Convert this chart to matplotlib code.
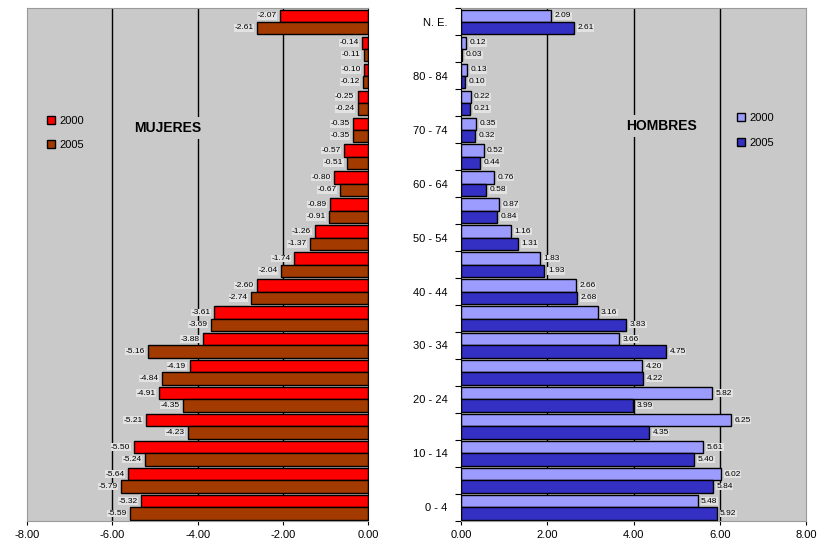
import numpy as np
import matplotlib
matplotlib.use("Agg")
import matplotlib.pyplot as plt

plt.rcParams['font.family'] = ['Liberation Sans', 'DejaVu Sans']

# age groups, top to bottom
categories = ["N. E.", "85 y +", "80 - 84", "75 - 79", "70 - 74", "65 - 69", "60 - 64",
              "55 - 59", "50 - 54", "45 - 49", "40 - 44", "35 - 39", "30 - 34",
              "25 - 29", "20 - 24", "15 - 19", "10 - 14", "5 - 9", "0 - 4"]

mujeres_2000 = [-2.07, -0.14, -0.10, -0.25, -0.35, -0.57, -0.80, -0.89, -1.26, -1.74,
                -2.60, -3.61, -3.88, -4.19, -4.91, -5.21, -5.50, -5.64, -5.32]
mujeres_2005 = [-2.61, -0.11, -0.12, -0.24, -0.35, -0.51, -0.67, -0.91, -1.37, -2.04,
                -2.74, -3.69, -5.16, -4.84, -4.35, -4.23, -5.24, -5.79, -5.59]

hombres_2000 = [2.09, 0.12, 0.13, 0.22, 0.35, 0.52, 0.76, 0.87, 1.16, 1.83,
                2.66, 3.16, 3.66, 4.20, 5.82, 6.25, 5.61, 6.02, 5.48]
hombres_2005 = [2.61, 0.03, 0.10, 0.21, 0.32, 0.44, 0.58, 0.84, 1.31, 1.93,
                2.68, 3.83, 4.75, 4.22, 3.99, 4.35, 5.40, 5.84, 5.92]

years = ["2000", "2005"]
left_ticks = [-8, -6, -4, -2, 0]
right_ticks = [0, 2, 4, 6, 8]

bg = "#c9c9c9"
bar_h = 0.45
y = np.arange(len(categories))

fig = plt.figure(figsize=(8.22, 5.5), dpi=100)
ax_m = fig.add_axes([0.033, 0.053, 0.415, 0.932])
ax_h = fig.add_axes([0.561, 0.053, 0.42, 0.932])


def draw_side(ax, v2000, v2005, colors, ticks, xlim, side):
    ax.set_facecolor(bg)
    for t in ticks[1:-1]:
        ax.axvline(t, color="black", lw=1, zorder=1)
    ax.barh(y - bar_h / 2, v2000, height=bar_h, color=colors[0], edgecolor="black",
            lw=1, label=years[0], zorder=2)
    ax.barh(y + bar_h / 2, v2005, height=bar_h, color=colors[1], edgecolor="black",
            lw=1, label=years[1], zorder=2)
    for vals, off in ((v2000, -bar_h / 2), (v2005, bar_h / 2)):
        for i, v in enumerate(vals):
            if side == "left":
                ax.text(v - 0.08, i + off, f"{v:.2f}", ha="right", va="center",
                        fontsize=6, zorder=4,
                        bbox=dict(facecolor="#e2e2e2", edgecolor="none", pad=0.3))
            else:
                ax.text(v + 0.08, i + off, f"{v:.2f}", ha="left", va="center",
                        fontsize=6, zorder=4,
                        bbox=dict(facecolor="#e2e2e2", edgecolor="none", pad=0.3))
    ax.set_xlim(*xlim)
    ax.set_ylim(len(categories) - 0.5, -0.5)
    ax.set_xticks(ticks)
    ax.set_xticklabels([f"{t:.2f}" for t in ticks], fontsize=8)
    ax.tick_params(axis="x", length=3, direction="out")
    for s in ax.spines.values():
        s.set_color("#9a9a9a")


draw_side(ax_m, mujeres_2000, mujeres_2005, ["#ff0000", "#a33a00"], left_ticks, (-8, 0), "left")
draw_side(ax_h, hombres_2000, hombres_2005, ["#9c9cff", "#3430c4"], right_ticks, (0, 8), "right")

# women panel: no y labels
ax_m.set_yticks([])
ax_m.spines["right"].set_color("black")

# men panel: ticks at group boundaries, labels every other group
ax_h.spines["left"].set_color("black")
ax_h.set_yticks(np.arange(-0.5, len(categories)), minor=False)
ax_h.set_yticklabels([])
ax_h.set_yticks(y, minor=True)
ax_h.set_yticklabels([c if i % 2 == 0 else "" for i, c in enumerate(categories)],
                     minor=True, fontsize=8)
ax_h.tick_params(axis="y", which="major", length=4, direction="out")
ax_h.tick_params(axis="y", which="minor", length=0, pad=10)

ax_m.text(0.413, 0.766, "MUJERES", transform=ax_m.transAxes, ha="center", va="center",
          fontsize=10, fontweight="bold", zorder=3,
          bbox=dict(facecolor=bg, edgecolor="none", pad=3))
ax_h.text(0.579, 0.77, "HOMBRES", transform=ax_h.transAxes, ha="center", va="center",
          fontsize=10, fontweight="bold", zorder=3,
          bbox=dict(facecolor=bg, edgecolor="none", pad=3))

ax_m.legend(loc="upper left", bbox_to_anchor=(0.03, 0.81), frameon=False, fontsize=8,
            handlelength=0.7, handleheight=0.7, handletextpad=0.4, labelspacing=1.3)
ax_h.legend(loc="upper left", bbox_to_anchor=(0.77, 0.815), frameon=False, fontsize=8,
            handlelength=0.7, handleheight=0.7, handletextpad=0.4, labelspacing=1.3)

fig.savefig("out.png", dpi=100, facecolor="white")
